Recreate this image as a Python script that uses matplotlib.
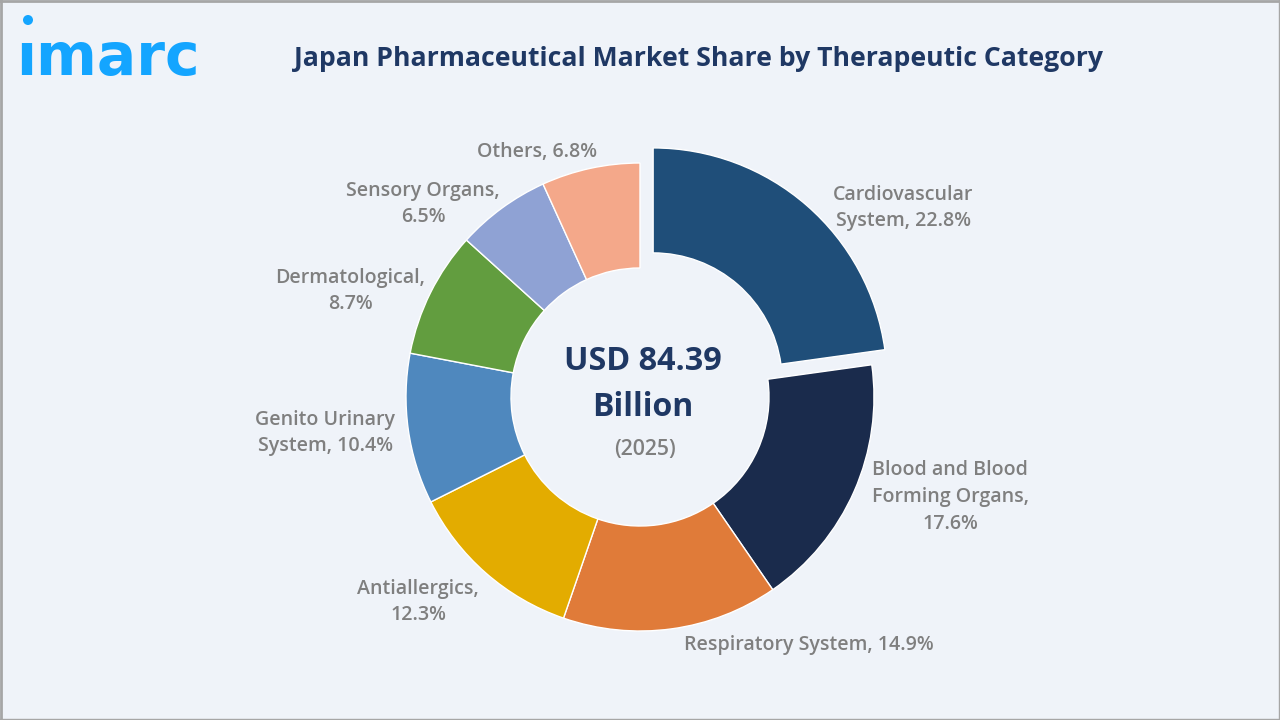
import matplotlib
matplotlib.use('Agg')
import matplotlib.pyplot as plt
from matplotlib.patches import Circle

plt.rcParams['font.family'] = ['Open Sans', 'DejaVu Sans']

# values, clockwise from the top
shares = [22.8, 17.6, 14.9, 12.3, 10.4, 8.7, 6.5, 6.8]
colors = ['#1F4E79', '#1A2B4C', '#E07B39', '#E3AC00', '#4F88BE', '#629D3F', '#8FA2D4', '#F4A88A']
label_text = ['Cardiovascular\nSystem, 22.8%', 'Blood and Blood\nForming Organs,\n17.6%',
              'Respiratory System, 14.9%', 'Antiallergics,\n12.3%', 'Genito Urinary\nSystem, 10.4%',
              'Dermatological,\n8.7%', 'Sensory Organs,\n6.5%', 'Others, 6.8%']
label_pos = [(903, 208), (950, 497), (809, 645), (418, 602), (325, 433), (350, 291), (423, 204), (537, 152)]

bg = '#EFF3F9'
H = 720

fig = plt.figure(figsize=(12.8, 7.2), dpi=100, facecolor=bg)
ax = fig.add_axes([0, 0, 1, 1])

# explode is in data units here, so it is the shift in pixels
explode = [20, 0, 0, 0, 0, 0, 0, 0]
ax.pie(shares, colors=colors, explode=explode, startangle=90, counterclock=False,
       radius=234, center=(640, H - 397),
       wedgeprops=dict(width=105, edgecolor='white', linewidth=1))
ax.set_xlim(0, 1280)
ax.set_ylim(0, H)
ax.axis('off')

# frame is heavier at the top and left in the picture
fig.add_artist(plt.Line2D([0, 1], [0.9985, 0.9985], color='#A6A6A6', lw=2))
fig.add_artist(plt.Line2D([0.0008, 0.0008], [0, 1], color='#A6A6A6', lw=2))
fig.add_artist(plt.Line2D([0, 1], [0.0007, 0.0007], color='#A6A6A6', lw=1))
fig.add_artist(plt.Line2D([0.9996, 0.9996], [0, 1], color='#A6A6A6', lw=1))

for txt, (x, y) in zip(label_text, label_pos):
    ax.text(x, H - y, txt, ha='center', va='center', fontsize=14.1, fontweight='semibold',
            color='#7F7F7F', linespacing=1.45)

ax.text(643, H - 361, 'USD 84.39', ha='center', va='center', fontsize=23.3, fontweight='bold', color='#1F3864')
ax.text(643, H - 408, 'Billion', ha='center', va='center', fontsize=23, fontweight='bold', color='#1F3864')
ax.text(645, H - 449, '(2025)', ha='center', va='center', fontsize=15.3, fontweight='semibold', color='#7F7F7F')

ax.text(698, H - 59, 'Japan Pharmaceutical Market Share by Therapeutic Category', ha='center', va='center',
        fontsize=19.2, fontweight='bold', color='#1F3864')

# logo
ax.text(16, H - 75, '\u0131marc', ha='left', va='baseline', fontsize=42, fontweight='bold',
        color='#14A5FF', family=['DejaVu Sans'])
ax.add_patch(Circle((28, H - 20), 5, color='#14A5FF', lw=0))

fig.savefig('out.png', dpi=100, facecolor=bg)
